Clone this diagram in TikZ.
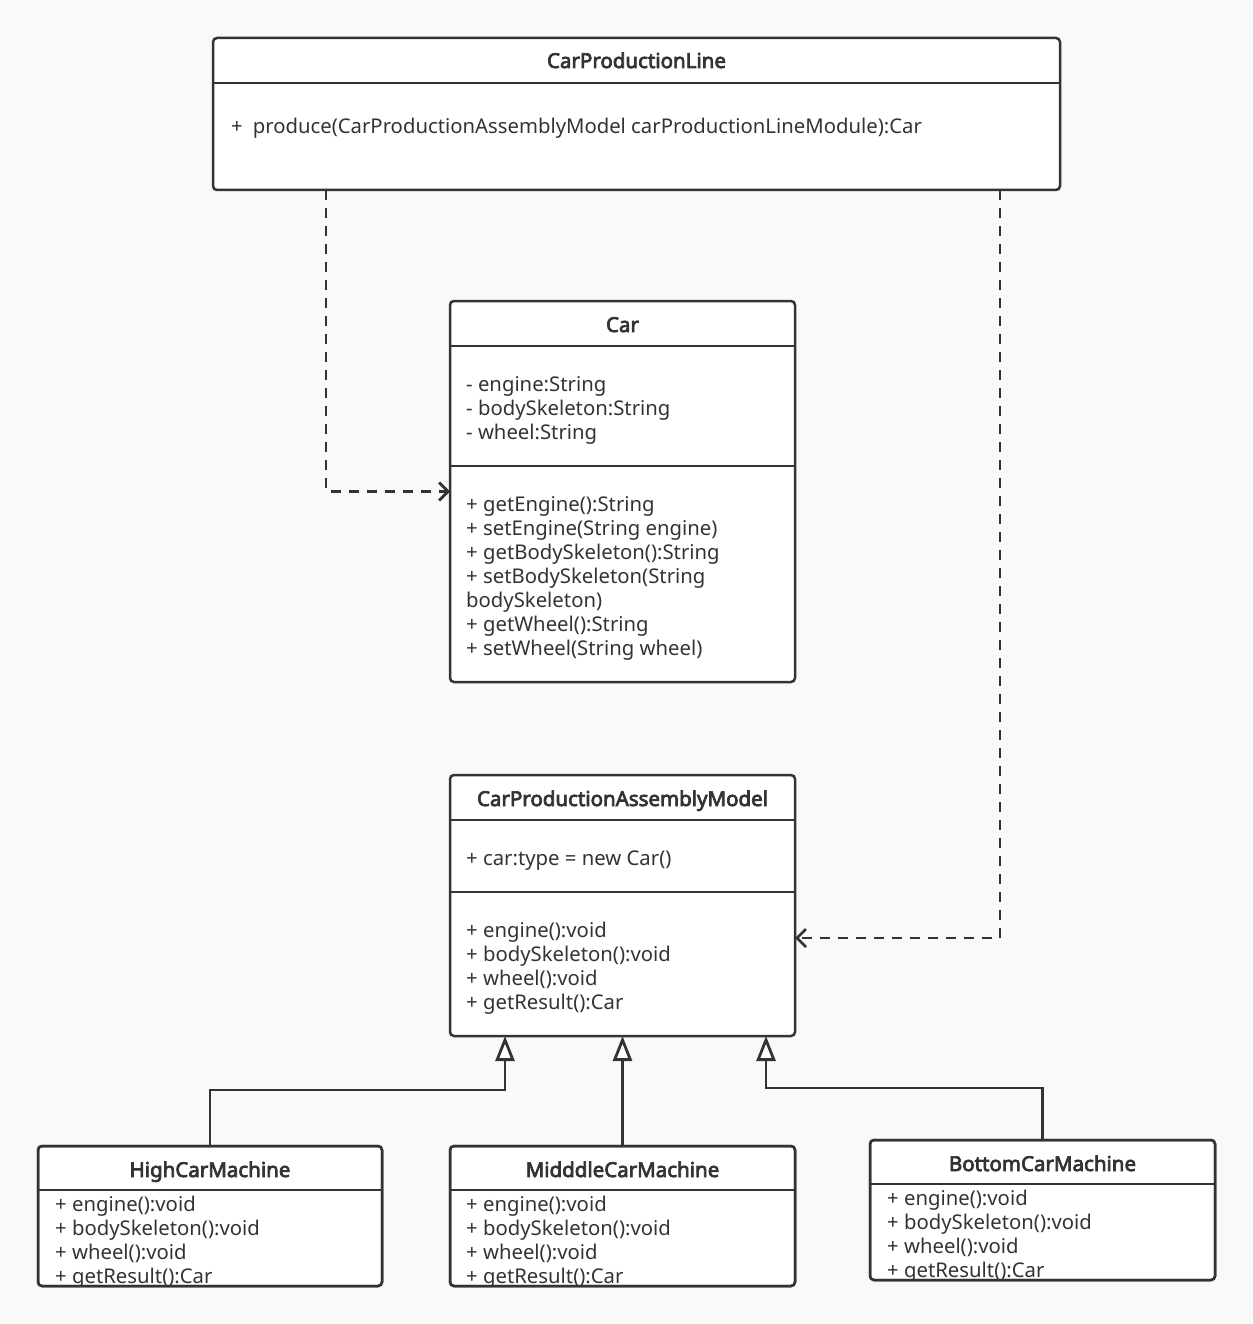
\documentclass[tikz,border=0pt]{standalone}
\usepackage{fontspec}
\setmainfont{Noto Sans}
\newfontfamily\ttlfont{Noto Sans}[FakeBold=3.5]
\usetikzlibrary{arrows.meta,calc}
\definecolor{bg}{HTML}{F9F9F9}
\definecolor{ink}{HTML}{333333}
\begin{document}
\begin{tikzpicture}[x=1pt,y=-1pt,
  cls/.style={draw=ink,fill=white,line width=2.5pt,rounded corners=4pt,inner sep=0pt,outer sep=0pt,anchor=north west},
  border/.style={draw=ink,line width=2.5pt,rounded corners=4pt},
  sep/.style={draw=ink,line width=2.5pt},
  ttl/.style={font=\ttlfont\fontsize{20.5}{24}\selectfont,text=ink,inner sep=0pt,anchor=base},
  txt/.style={font=\fontsize{20.3}{24}\selectfont,text=ink,inner sep=0pt,align=left,anchor=base west},
  dep/.style={draw=ink,line width=2.8pt,dash pattern=on 10pt off 8pt,-{Straight Barb[length=9pt,width=18pt]}},
  gen/.style={draw=ink,line width=2.8pt,-{Triangle[open,length=25pt,width=19pt,fill=white]}}]
\fill[bg] (0,0) rectangle (1252,1324);
\useasboundingbox (0,0) rectangle (1252,1324);

% CarProductionLine
\node[cls,minimum width=847,minimum height=152] (cpl) at (213,38) {};
\draw[sep] (213,83) -- (1060,83);
\node[ttl] (cplT) at (636.5,68) {CarProductionLine};
\node[txt] (cplM) at (231,134) {+\hspace{10pt}produce(CarProductionAssemblyModel carProductionLineModule):Car};

% Car
\node[cls,minimum width=345,minimum height=381] (car) at (450,301) {};
\draw[sep] (450,346) -- (795,346);
\draw[sep] (450,466) -- (795,466);
\node[ttl] (carT) at (622.5,332) {Car};
\node[txt] (carA) at (466,439) {- engine:String\\- bodySkeleton:String\\- wheel:String};
\node[txt] (carM) at (466,655) {+ getEngine():String\\+ setEngine(String engine)\\+ getBodySkeleton():String\\+ setBodySkeleton(String\\bodySkeleton)\\+ getWheel():String\\+ setWheel(String wheel)};

% CarProductionAssemblyModel
\node[cls,minimum width=345,minimum height=261] (cpam) at (450,775) {};
\draw[sep] (450,820) -- (795,820);
\draw[sep] (450,892) -- (795,892);
\node[ttl] (cpamT) at (622.5,806) {CarProductionAssemblyModel};
\node[txt] (cpamA) at (466,865) {+ car:type = new Car()};
\node[txt] (cpamM) at (466,1009) {+ engine():void\\+ bodySkeleton():void\\+ wheel():void\\+ getResult():Car};

% HighCarMachine
\node[cls,minimum width=344,minimum height=140] (hcm) at (38,1146) {};
\draw[sep] (38,1190) -- (382,1190);
\node[ttl] (hcmT) at (210,1177) {HighCarMachine};
\begin{scope}
  \clip (hcm.north west) rectangle (hcm.south east);
  \node[txt] (hcmM) at (55,1283) {+ engine():void\\+ bodySkeleton():void\\+ wheel():void\\+ getResult():Car};
\end{scope}
\draw[border] (hcm.north west) rectangle (hcm.south east);

% MidddleCarMachine
\node[cls,minimum width=345,minimum height=140] (mcm) at (450,1146) {};
\draw[sep] (450,1190) -- (795,1190);
\node[ttl] (mcmT) at (622.5,1177) {MidddleCarMachine};
\begin{scope}
  \clip (mcm.north west) rectangle (mcm.south east);
  \node[txt] (mcmM) at (466,1283) {+ engine():void\\+ bodySkeleton():void\\+ wheel():void\\+ getResult():Car};
\end{scope}
\draw[border] (mcm.north west) rectangle (mcm.south east);

% BottomCarMachine
\node[cls,minimum width=345,minimum height=140] (bcm) at (870,1140) {};
\draw[sep] (870,1184) -- (1215,1184);
\node[ttl] (bcmT) at (1042.5,1171) {BottomCarMachine};
\begin{scope}
  \clip (bcm.north west) rectangle (bcm.south east);
  \node[txt] (bcmM) at (887,1277) {+ engine():void\\+ bodySkeleton():void\\+ wheel():void\\+ getResult():Car};
\end{scope}
\draw[border] (bcm.north west) rectangle (bcm.south east);

% dependencies
\draw[dep] (cpl.south -| 326,0) |- (car.west);
\draw[dep] (cpl.south -| 1000,0) |- (cpam.east |- 0,938);

% generalizations
\draw[gen] (hcm.north) |- (505,1090) -- (cpam.south -| 505,0);
\draw[gen] (mcm.north) -- (cpam.south -| mcm.north);
\draw[gen] (bcm.north) |- (766,1088) -- (cpam.south -| 766,0);
\end{tikzpicture}
\end{document}
